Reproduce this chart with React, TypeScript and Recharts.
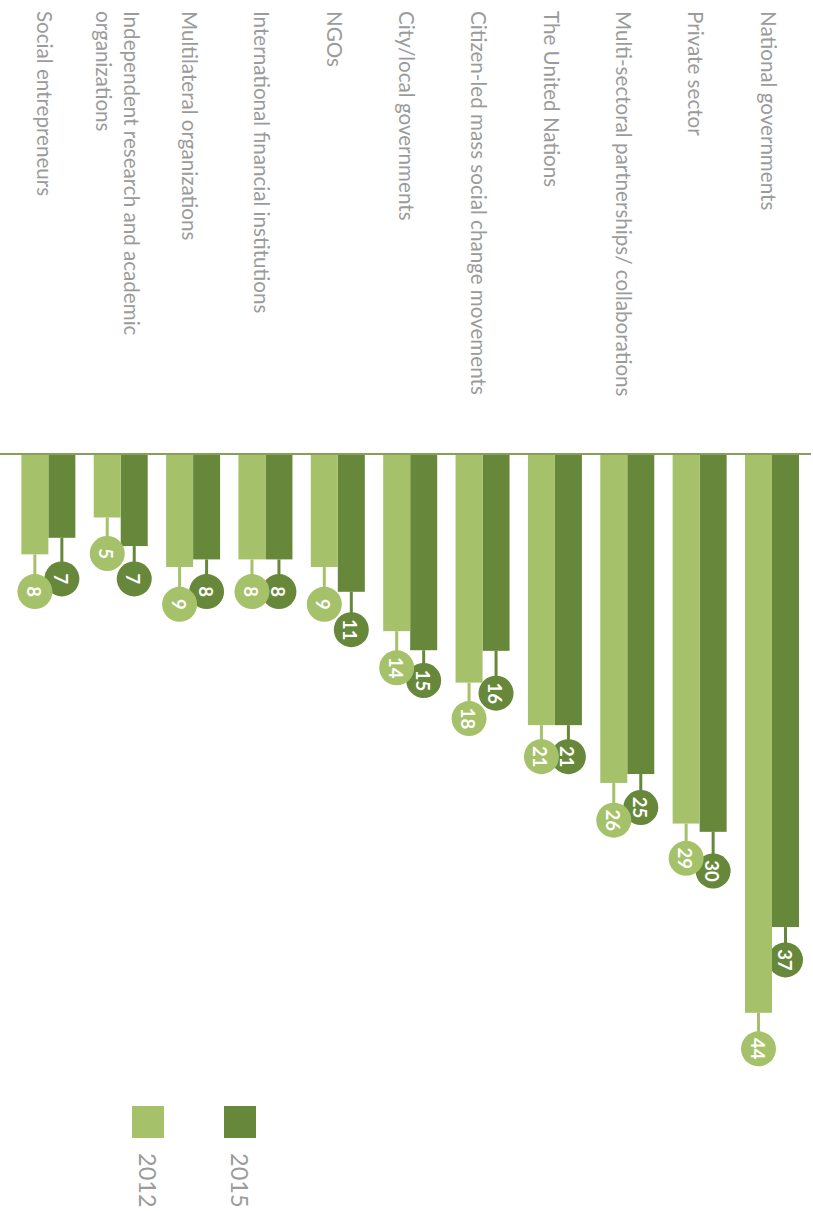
import React from 'react';
import { BarChart, Bar, XAxis, YAxis, Legend } from 'recharts';

const categories = [
  'National governments',
  'Private sector',
  'Multi-sectoral partnerships/ collaborations',
  'The United Nations',
  'Citizen-led mass social change movements',
  'City/local governments',
  'NGOs',
  'International financial institutions',
  'Multilateral organizations',
  'Independent research and academic organizations',
  'Social entrepreneurs',
];

const values2012 = [44.0, 29.1, 25.9, 21.35, 18.0, 13.95, 8.9, 8.3, 8.9, 5.0, 7.9];
const values2015 = [37.25, 29.75, 25.2, 21.35, 15.5, 15.45, 10.85, 8.3, 8.3, 7.25, 6.6];

const seriesNames = ['2015', '2012'];

const LIGHT = '#a5c26a';
const DARK = '#67883a';
const AXIS = '#86a05a';
const GRAY = '#9b9b9b';
const FONT = 'Lato, "Open Sans", sans-serif';

const data = categories.map((name, i) => ({
  name,
  y2012: values2012[i],
  y2015: values2015[i],
}));

const LABEL_GAP = 36;
const MAX_CHARS = 45;

const wrapText = (s: string): string[] => {
  const words = s.split(' ');
  const lines: string[] = [];
  let cur = '';
  for (const w of words) {
    const next = cur ? cur + ' ' + w : w;
    if (next.length > MAX_CHARS && cur) {
      lines.push(cur);
      cur = w;
    } else {
      cur = next;
    }
  }
  if (cur) lines.push(cur);
  return lines;
};

const CategoryTick = (props: any) => {
  const { y, payload } = props;
  const lines = wrapText(String(payload.value));
  const lh = 28;
  const start = y + 3 - ((lines.length - 1) * lh) / 2;
  return (
    <text x={11} y={start} textAnchor="start" dominantBaseline="central" fill={GRAY} fontSize={20.6} fontFamily={FONT}>
      {lines.map((l, i) => (
        <tspan key={i} x={11} y={start + i * lh}>
          {l}
        </tspan>
      ))}
    </text>
  );
};

const makeShape = (color: string, key: string) => (props: any) => {
  const { x, y, width, height, payload } = props;
  const value = payload[key];
  const label = Math.round(value);
  const ppu = width / value;
  const cx = x + label * ppu + LABEL_GAP;
  const cy = y + height / 2;
  return (
    <g>
      <rect x={x} y={y} width={width} height={height} fill={color} />
      <line x1={x + width} y1={cy} x2={cx} y2={cy} stroke={color} strokeWidth={3} />
      <circle cx={cx} cy={cy} r={17.5} fill={color} />
      <text x={cx} y={cy + 1} textAnchor="middle" dominantBaseline="central" fill="#ffffff" fontSize={18.5} fontWeight={700} fontFamily={FONT}>
        {label}
      </text>
    </g>
  );
};

const LegendContent = (props: any) => {
  const payload = [...(props.payload || [])].sort((a: any, b: any) =>
    String(b.value).localeCompare(String(a.value))
  );
  return (
    <div style={{ fontFamily: FONT }}>
      {payload.map((p: any, i: number) => (
        <div key={i} style={{ display: 'flex', alignItems: 'center', height: 32, marginBottom: 60 }}>
          <div style={{ width: 32, height: 32, flexShrink: 0, background: p.color }} />
          <span style={{ marginLeft: 15, fontSize: 23.5, color: GRAY, lineHeight: '32px', whiteSpace: 'nowrap' }}>{p.value}</span>
        </div>
      ))}
    </div>
  );
};

export default function App() {
  return (
    <>
      <style>{`html,body{margin:0;overflow:hidden;background:#fff}`}</style>
      <div
        style={{
          position: 'absolute',
          left: 0,
          top: 0,
          width: 1211,
          height: 813,
          transformOrigin: '0 0',
          transform: 'translate(813px, 0) rotate(90deg)',
        }}
      >
        <BarChart
          width={1211}
          height={813}
          data={data}
          layout="vertical"
          margin={{ top: 2, right: 122, bottom: 0, left: 0 }}
          barSize={27}
          barGap={0}
          style={{ fontFamily: FONT }}
        >
          <XAxis type="number" domain={[0, 50]} hide />
          <YAxis
            type="category"
            dataKey="name"
            width={454}
            tickLine={false}
            axisLine={{ stroke: AXIS, strokeWidth: 2 }}
            tick={<CategoryTick />}
            padding={{ top: 3, bottom: 12 }}
            interval={0}
          />
          <Legend
            layout="horizontal"
            verticalAlign="middle"
            align="center"
            wrapperStyle={{ left: 1106, top: 557, width: 104 }}
            content={<LegendContent />}
          />
          <Bar dataKey="y2015" name={seriesNames[0]} fill={DARK} isAnimationActive={false} shape={makeShape(DARK, 'y2015')} />
          <Bar dataKey="y2012" name={seriesNames[1]} fill={LIGHT} isAnimationActive={false} shape={makeShape(LIGHT, 'y2012')} />
        </BarChart>
      </div>
    </>
  );
}
